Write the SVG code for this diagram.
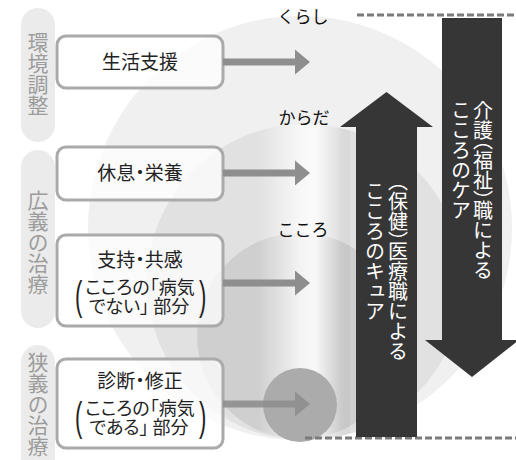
<svg xmlns="http://www.w3.org/2000/svg" width="516" height="460" viewBox="0 0 516 460">
<style>
.jp{font-family:"Noto Sans CJK JP","Noto Sans",sans-serif;}
.box{fill:#fff;fill-opacity:0.72;stroke:#aaaaaa;stroke-width:3;}
.bt{font-size:19px;fill:#222;text-anchor:middle;font-feature-settings:"palt";}
.bs{font-size:18px;fill:#222;text-anchor:middle;font-feature-settings:"palt";}
.par{font-family:"Liberation Sans",sans-serif;font-size:22px;fill:#222;}
.pill{fill:#ebebeb;}
.pl{font-size:21px;fill:#9c9c9c;writing-mode:vertical-rl;}
.cl{font-size:17px;fill:#111;text-anchor:middle;}
.vt{font-size:20px;fill:#fff;writing-mode:vertical-rl;}
.half{font-feature-settings:"vhal";}
.big{fill:#363636;}
.garrow{fill:#8e8e8e;}
.dash{stroke:#7a7a7a;stroke-width:3;stroke-dasharray:7 3;fill:none;}
</style>
<defs>
<linearGradient id="band" x1="258" y1="0" x2="350" y2="0" gradientUnits="userSpaceOnUse">
<stop offset="0" stop-color="#fff" stop-opacity="0"/>
<stop offset="0.45" stop-color="#fff" stop-opacity="0.75"/>
<stop offset="0.62" stop-color="#fff" stop-opacity="0.85"/>
<stop offset="0.85" stop-color="#fff" stop-opacity="0.1"/>
<stop offset="1" stop-color="#000" stop-opacity="0.03"/>
</linearGradient>
<clipPath id="mid"><circle cx="305" cy="282" r="158"/></clipPath>
</defs>
<rect width="516" height="460" fill="#fff"/>

<g id="circles">
<circle cx="300" cy="228" r="212" fill="#f0f0f0"/>
<circle cx="305" cy="282" r="158" fill="#e1e1e1"/>
<circle cx="300" cy="336" r="103" fill="#cfcfcf"/>
<rect x="258" y="110" width="92" height="335" fill="url(#band)" clip-path="url(#mid)"/>
<circle cx="300" cy="405" r="37" fill="#ababab"/>
</g>

<g id="label-kankyo">
<rect class="pill" x="21" y="8" width="34" height="134" rx="17"/>
<text class="jp pl" x="38" y="32">環境調整</text>
</g>
<g id="label-kougi">
<rect class="pill" x="21" y="150" width="34" height="178" rx="17"/>
<text class="jp pl" x="38" y="190">広義の治療</text>
</g>
<g id="label-kyougi">
<rect class="pill" x="21" y="345" width="34" height="140" rx="17"/>
<text class="jp pl" x="38" y="352">狭義の治療</text>
</g>

<g id="box-seikatsu">
<rect class="box" x="57" y="36" width="166" height="52" rx="9"/>
<text class="jp bt" x="140" y="69">生活支援</text>
</g>
<g id="box-kyusoku">
<rect class="box" x="57" y="147" width="166" height="53" rx="9"/>
<text class="jp bt" x="140" y="180">休息・栄養</text>
</g>
<g id="box-shiji">
<rect class="box" x="57" y="235" width="166" height="91" rx="9"/>
<text class="jp bt" x="140" y="267">支持・共感</text>
<text class="jp bs" x="140" y="294">こころの「病気</text>
<text class="jp bs" x="139" y="313">でない」 部分</text>
<text class="par" transform="translate(75,310) scale(1,1.85)">(</text>
<text class="par" transform="translate(199,310) scale(1,1.85)">)</text>
</g>
<g id="box-shindan">
<rect class="box" x="57" y="359" width="166" height="89" rx="9"/>
<text class="jp bt" x="140" y="388">診断・修正</text>
<text class="jp bs" x="140" y="415">こころの「病気</text>
<text class="jp bs" x="139" y="434">である」 部分</text>
<text class="par" transform="translate(75,431) scale(1,1.85)">(</text>
<text class="par" transform="translate(199,431) scale(1,1.85)">)</text>
</g>

<g id="connectors">
<path class="garrow" d="M223 58.5 H295 V49.5 L310 62 L295 74.5 V65.5 H223 Z"/>
<path class="garrow" d="M223 169.5 H295 V160.5 L310 173 L295 185.5 V176.5 H223 Z"/>
<path class="garrow" d="M223 279.5 H295 V270.5 L310 283 L295 295.5 V286.5 H223 Z"/>
<path class="garrow" fill-opacity="0.9" d="M223 400.5 H295 V391.5 L310 404 L295 416.5 V407.5 H223 Z"/>
</g>

<g id="circle-labels">
<text class="jp cl" x="303" y="23">くらし</text>
<text class="jp cl" x="304" y="124">からだ</text>
<text class="jp cl" x="303" y="236">こころ</text>
</g>

<g id="dashed-lines">
<line class="dash" x1="357" y1="15" x2="516" y2="15"/>
<line class="dash" x1="305" y1="438" x2="516" y2="438"/>
</g>

<g id="arrow-cure">
<path class="big" d="M356 437 V127 H340 L386.5 92 L433 127 H417 V437 Z"/>
<text class="jp vt" x="398" y="181"><tspan class="half">（</tspan>保健<tspan class="half">）</tspan>医療職による</text>
<text class="jp vt" x="375" y="181">こころのキュア</text>
</g>
<g id="arrow-care">
<path class="big" d="M442 18 H502 V340 H519 L472 377 L425 340 H442 Z"/>
<text class="jp vt" x="483" y="100">介護<tspan class="half">（</tspan>福祉<tspan class="half">）</tspan>職による</text>
<text class="jp vt" x="461" y="100">こころのケア</text>
</g>
</svg>
